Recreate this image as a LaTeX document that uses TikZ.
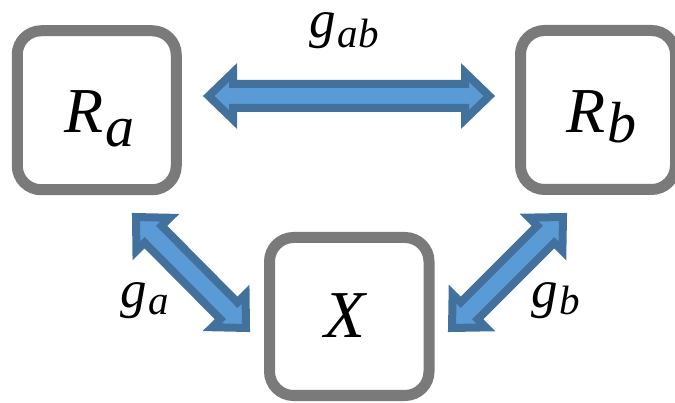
\documentclass[tikz,border=0pt]{standalone}
\usepackage{fontspec}
\newfontfamily\lblfont{Liberation Serif}
\usetikzlibrary{calc}
\definecolor{boxgray}{HTML}{7A7A7A}
\definecolor{arrowfill}{HTML}{5B9BD5}
\definecolor{arrowedge}{HTML}{41719C}

% font sizes for the symbols
\newcommand{\bigsym}{\fontsize{64}{64}\selectfont}
\newcommand{\midsub}{\fontsize{58}{58}\selectfont}
\newcommand{\gsym}{\fontsize{53}{53}\selectfont}
\newcommand{\gsub}{\fontsize{41}{41}\selectfont}

\begin{document}
\begin{tikzpicture}[x=1pt,y=-1pt,
  box/.style={draw=boxgray, line width=11pt, rounded corners=24pt,
    inner sep=0pt, fill=white},
  lbl/.style={anchor=base west, inner sep=0pt, font=\lblfont\itshape},
  % double-headed block arrow drawn between two tip points
  blockarrow/.style={draw=arrowedge, fill=arrowfill, line width=8pt,
    line join=miter,
    to path={
      ($(\tikztostart)!5.7pt!(\tikztotarget)$)
      -- ($(\tikztostart)!30pt!(\tikztotarget)!23.5pt!90:(\tikztotarget)$)
      -- ($(\tikztostart)!30pt!(\tikztotarget)!12pt!90:(\tikztotarget)$)
      -- ($(\tikztotarget)!30pt!(\tikztostart)!12pt!-90:(\tikztostart)$)
      -- ($(\tikztotarget)!30pt!(\tikztostart)!23.5pt!-90:(\tikztostart)$)
      -- ($(\tikztotarget)!5.7pt!(\tikztostart)$)
      -- ($(\tikztotarget)!30pt!(\tikztostart)!23.5pt!90:(\tikztostart)$)
      -- ($(\tikztotarget)!30pt!(\tikztostart)!12pt!90:(\tikztostart)$)
      -- ($(\tikztostart)!30pt!(\tikztotarget)!12pt!-90:(\tikztotarget)$)
      -- ($(\tikztostart)!30pt!(\tikztotarget)!23.5pt!-90:(\tikztotarget)$)
      -- cycle}}]

\useasboundingbox (0,0) rectangle (675,403);

% the three boxes
\node[box, minimum width=159pt, minimum height=159pt] (Ra) at (96.75,110.25) {};
\node[box, minimum width=155pt, minimum height=159pt] (Rb) at (598,110) {};
\node[box, minimum width=159.5pt, minimum height=158pt] (X) at (349.25,316.5) {};

% symbols inside the boxes
\node[lbl] (RaText) at (64,133) {\bigsym R\kern2pt\raisebox{-14pt}{\midsub a}};
\node[lbl] (RbText) at (566,133) {\bigsym R\kern2pt\raisebox{-10pt}{\midsub b}};
\node[lbl] (XText) at (324,338) {\fontsize{67}{67}\selectfont X};

% arrow tips
\coordinate (abL) at (203,96);
\coordinate (abR) at (495,96);
\coordinate (aUp) at (132,213);
\coordinate (aDn) at (250,332);
\coordinate (bDn) at (448,332);
\coordinate (bUp) at (567,213);

% couplings
\draw[blockarrow] (abL) to (abR);
\draw[blockarrow] (aUp) to (aDn);
\draw[blockarrow] (bDn) to (bUp);

% coupling labels
\node[lbl, text height=24pt] (gab) at (309,38) {\gsym g\kern2pt\raisebox{-10pt}{\gsub ab}};
\node[lbl] (ga) at (120,308) {\gsym g\kern2pt\raisebox{-7pt}{\gsub a}};
\node[lbl] (gb) at (531,308) {\gsym g\kern2pt\raisebox{-7pt}{\gsub b}};
\end{tikzpicture}
\end{document}
